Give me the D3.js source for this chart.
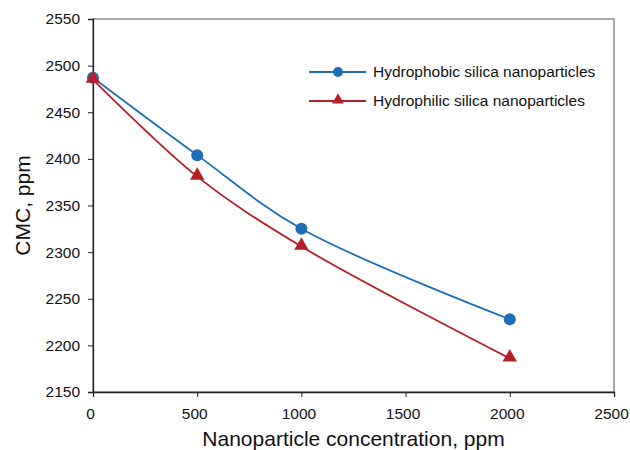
<!DOCTYPE html>
<html>
<head>
<meta charset="utf-8">
<script src="https://d3js.org/d3.v7.min.js"></script>
<style>
body { margin: 0; background: #fff; font-family: 'Liberation Sans', Arial, sans-serif; }
</style>
</head>
<body>
<svg></svg>
<script>
var width = 630,
    height = 450;

// data
var concentration = [0, 500, 1000, 2000];
var hydrophobic = [2487, 2404, 2325, 2228];
var hydrophilic = [2485, 2381, 2306, 2186];
var xTicks = [0, 500, 1000, 1500, 2000, 2500];
var yTicks = [2150, 2200, 2250, 2300, 2350, 2400, 2450, 2500, 2550];
var seriesNames = ['Hydrophobic silica nanoparticles', 'Hydrophilic silica nanoparticles'];

var margin = {left: 93, top: 19, right: 16, bottom: 58};
var blue = '#1f6db5', red = '#b5202a';

var svg = d3.select('svg')
  .attr('width', width)
  .attr('height', height);

var x = d3.scaleLinear()
  .domain([0, 2500])
  .range([margin.left, width - margin.right]);

var y = d3.scaleLinear()
  .domain([2150, 2550])
  .range([height - margin.bottom, margin.top]);

// plot frame
svg.append('rect')
  .attr('x', x(0))
  .attr('y', y(2550))
  .attr('width', x(2500) - x(0))
  .attr('height', y(2150) - y(2550))
  .attr('fill', 'none')
  .attr('stroke', '#555')
  .attr('stroke-width', 1);

var xAxis = svg.append('g')
  .attr('transform', 'translate(0,' + y(2150) + ')')
  .call(d3.axisBottom(x).tickValues(xTicks).tickFormat(d3.format('d')).tickSize(5).tickPadding(11));

var yAxis = svg.append('g')
  .attr('transform', 'translate(' + x(0) + ',0)')
  .call(d3.axisLeft(y).tickValues(yTicks).tickFormat(d3.format('d')).tickSize(5).tickPadding(8));

svg.selectAll('.domain').attr('stroke', '#222').attr('stroke-width', 1.3);
svg.selectAll('.tick line').attr('stroke', '#222');
svg.selectAll('.tick text')
  .attr('font-family', 'Liberation Sans, Arial, sans-serif')
  .attr('font-size', 15.5)
  .attr('fill', '#111');
// excel nudges the x labels a little to the left
xAxis.selectAll('.tick text').attr('dx', -3);

// axis titles
svg.append('text')
  .attr('x', (x(0) + x(2500)) / 2)
  .attr('y', 446)
  .attr('text-anchor', 'middle')
  .style('font-size', '21px')
  .attr('fill', '#111')
  .text('Nanoparticle concentration, ppm');

svg.append('text')
  .attr('transform', 'translate(30,' + ((y(2150) + y(2550)) / 2) + ')rotate(-90)')
  .attr('text-anchor', 'middle')
  .style('font-size', '21px')
  .attr('fill', '#111')
  .text('CMC, ppm');

var line = d3.line()
  .x(function(d) { return x(d[0]); })
  .y(function(d) { return y(d[1]); })
  .curve(d3.curveCatmullRom.alpha(0.5));

var tri = d3.symbol().type(d3.symbolTriangle).size(90);

function drawSeries(values, color, marker) {
  var pts = concentration.map(function(c, i) { return [c, values[i]]; });
  svg.append('path')
    .datum(pts)
    .attr('d', line)
    .attr('fill', 'none')
    .attr('stroke', color)
    .attr('stroke-width', 1.8);
  if (marker === 'circle') {
    svg.selectAll(null)
      .data(pts)
      .enter().append('circle')
      .attr('cx', function(d) { return x(d[0]); })
      .attr('cy', function(d) { return y(d[1]); })
      .attr('r', 6)
      .attr('fill', color);
  } else {
    svg.selectAll(null)
      .data(pts)
      .enter().append('path')
      .attr('d', tri)
      .attr('transform', function(d) { return 'translate(' + x(d[0]) + ',' + (y(d[1]) - 1) + ')'; })
      .attr('fill', color);
  }
}

drawSeries(hydrophobic, blue, 'circle');
drawSeries(hydrophilic, red, 'triangle');

// legend
var legend = svg.append('g');
var items = [
  {name: seriesNames[0], color: blue, marker: 'circle', y: 72},
  {name: seriesNames[1], color: red, marker: 'triangle', y: 101}
];
items.forEach(function(it) {
  legend.append('line')
    .attr('x1', 309).attr('x2', 366)
    .attr('y1', it.y).attr('y2', it.y)
    .attr('stroke', it.color)
    .attr('stroke-width', 1.8);
  if (it.marker === 'circle') {
    legend.append('circle').attr('cx', 338).attr('cy', it.y).attr('r', 5).attr('fill', it.color);
  } else {
    legend.append('path')
      .attr('d', d3.symbol().type(d3.symbolTriangle).size(60))
      .attr('transform', 'translate(338,' + (it.y - 1) + ')')
      .attr('fill', it.color);
  }
  legend.append('text')
    .attr('x', 373)
    .attr('y', it.y + 5)
    .style('font-size', '15.5px')
    .attr('fill', '#111')
    .text(it.name);
});
</script>
</body>
</html>
